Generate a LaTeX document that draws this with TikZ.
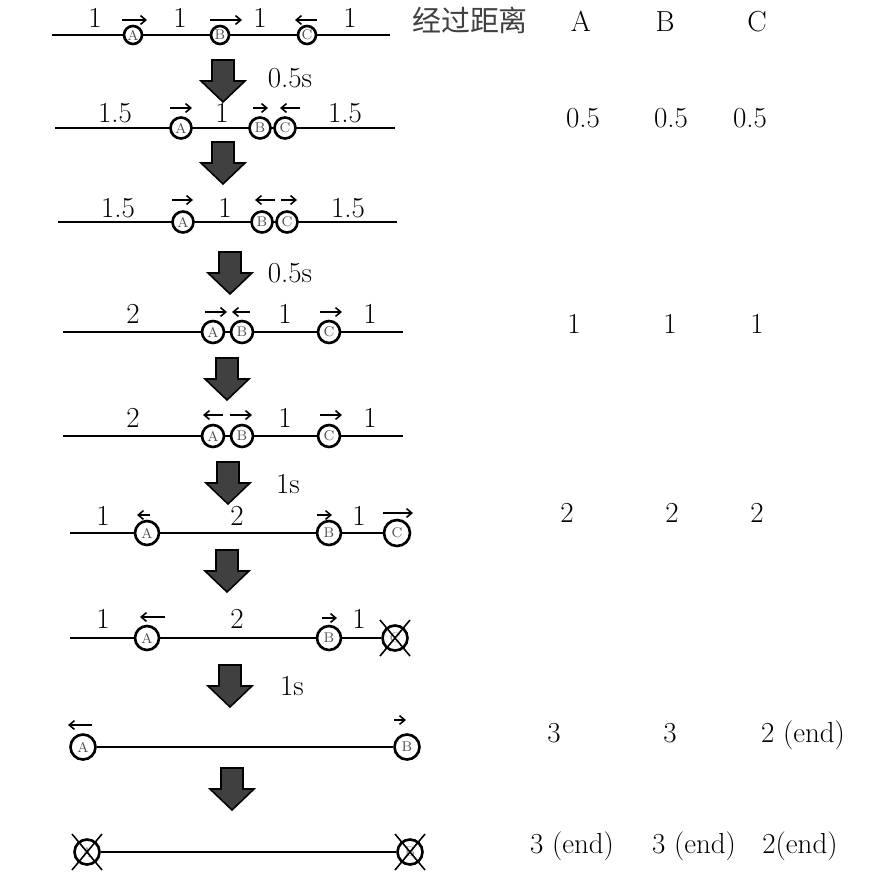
\documentclass[tikz,border=0pt]{standalone}
\usepackage{fontspec}
\newfontfamily\cjk{Noto Sans CJK SC}
\usetikzlibrary{arrows.meta}
\tikzset{down/.pic={\draw[fill=black!75,line width=.9pt] (-11,0)--(11,0)--(11,21)--(22,21)--(0,42)--(-22,21)--(-11,21)--cycle;}}

\begin{document}
\begin{tikzpicture}[x=.02cm,y=-.02cm,font=\fontsize{16.5}{19}\selectfont,
  ball/.style={circle,draw,fill=white,line width=1.5pt,minimum size=.44cm,inner sep=0pt,font=\fontsize{8}{9}\selectfont,text=black!70},
  track/.style={line width=1.6pt},
  mv/.style={line width=.9pt,-{Straight Barb[length=3pt,width=5pt]}},
  txt/.style={anchor=base},
  gone/.style={line width=.9pt}]
\useasboundingbox (0,0) rectangle (874,875);
% header
\node[txt,text=black!75] (hd) at (470,32) {\cjk 经过距离};
\node[txt] (hA) at (581,32) {A};\node[txt] (hB) at (665,32) {B};\node[txt] (hC) at (757,32) {C};
% row 1
\draw[track] (52,35) coordinate (s1) -- (390,35) coordinate (e1);
\node[ball,minimum size=.36cm] (a1) at (133,35) {A};\node[ball,minimum size=.36cm] (b1) at (220,35) {B};\node[ball,minimum size=.36cm] (c1) at (307,35) {C};
\draw[mv] (122,20)--(147,20);\draw[mv] (210,20)--(242,20);\draw[mv] (317,20)--(295,20);
\node[txt] at (95,28) {1};\node[txt] at (180,28) {1};\node[txt] at (260,28) {1};\node[txt] at (350,28) {1};
\pic at (223,60) {down};\node[txt] (t1) at (290,88) {0.5s};
% row 2
\draw[track] (55,128) coordinate (s2) -- (395,128) coordinate (e2);
\node[ball,minimum size=.42cm] (a2) at (181,128) {A};\node[ball,minimum size=.42cm] (b2) at (260,128) {B};\node[ball,minimum size=.42cm] (c2) at (285,128) {C};
\draw[mv] (170,108)--(192,108);\draw[mv] (253,108)--(268,108);\draw[mv] (300,108)--(280,108);
\node[txt] at (115,122) {1.5};\node[txt] at (222,122) {1};\node[txt] at (345,122) {1.5};
\node[txt] at (583,128) {0.5};\node[txt] at (671,128) {0.5};\node[txt] at (750,128) {0.5};
\pic at (223,142) {down};
% row 3
\draw[track] (58,222) coordinate (s3) -- (397,222) coordinate (e3);
\node[ball,minimum size=.42cm] (a3) at (183,222) {A};\node[ball,minimum size=.42cm] (b3) at (262,222) {B};\node[ball,minimum size=.42cm] (c3) at (287,222) {C};
\draw[mv] (172,200)--(193,200);\draw[mv] (275,200)--(255,200);\draw[mv] (281,200)--(297,200);
\node[txt] at (118,217) {1.5};\node[txt] at (225,217) {1};\node[txt] at (348,217) {1.5};
\pic at (230,252) {down};\node[txt] (t2) at (290,282) {0.5s};
% row 4
\draw[track] (63,332) coordinate (s4) -- (403,332) coordinate (e4);
\node[ball] (a4) at (213,332) {A};\node[ball] (b4) at (242,332) {B};\node[ball] (c4) at (329,332) {C};
\draw[mv] (205,312)--(227,312);\draw[mv] (250,312)--(232,312);\draw[mv] (320,312)--(342,312);
\node[txt] at (133,323) {2};\node[txt] at (285,323) {1};\node[txt] at (370,323) {1};
\node[txt] at (574,333) {1};\node[txt] at (670,333) {1};\node[txt] at (757,333) {1};
\pic at (227,358) {down};
% row 5
\draw[track] (63,436) coordinate (s5) -- (403,436) coordinate (e5);
\node[ball] (a5) at (213,436) {A};\node[ball] (b5) at (242,436) {B};\node[ball] (c5) at (329,436) {C};
\draw[mv] (223,415)--(203,415);\draw[mv] (230,415)--(252,415);\draw[mv] (320,415)--(342,415);
\node[txt] at (133,427) {2};\node[txt] at (285,427) {1};\node[txt] at (370,427) {1};
\pic at (228,462) {down};\node[txt] (t3) at (288,493) {1s};
% row 6
\node[ball,minimum size=.52cm] (c6) at (397,533) {C};
\draw[track] (70,533) coordinate (s6) -- (c6);
\node[ball,minimum size=.48cm] (a6) at (147,533) {A};\node[ball,minimum size=.48cm] (b6) at (329,533) {B};
\draw[mv] (150,515)--(137,515);\draw[mv] (317,515)--(332,515);\draw[mv] (383,513)--(413,513);
\node[txt] at (103,525) {1};\node[txt] at (237,525) {2};\node[txt] at (359,525) {1};
\node[txt] at (567,522) {2};\node[txt] at (672,522) {2};\node[txt] at (757,522) {2};
\pic at (227,550) {down};
% row 7
\node[ball,minimum size=.5cm,text=black!45] (c7) at (395,638) {C};
\draw[track] (70,638) coordinate (s7) -- (c7);
\node[ball,minimum size=.48cm] (a7) at (147,638) {A};\node[ball,minimum size=.48cm] (b7) at (329,638) {B};
\draw[gone] ([shift={(-15,-18)}]c7.center)--([shift={(15,18)}]c7.center);\draw[gone] ([shift={(15,-18)}]c7.center)--([shift={(-15,18)}]c7.center);
\draw[mv] (165,617)--(140,617);\draw[mv] (322,618)--(337,618);
\node[txt] at (103,628) {1};\node[txt] at (237,628) {2};\node[txt] at (359,628) {1};
\pic at (230,665) {down};\node[txt] (t4) at (292,695) {1s};
% row 8
\node[ball,minimum size=.5cm] (a8) at (83,747) {A};\node[ball,minimum size=.5cm] (b8) at (407,747) {B};
\draw[track] (a8) -- (b8);
\draw[mv] (92,725)--(68,725);\draw[mv] (394,720)--(406,720);
\node[txt] at (554,742) {3};\node[txt] at (670,742) {3};\node[txt] at (803,742) {2 (end)};
\pic at (232,768) {down};
% row 9
\node[ball,minimum size=.5cm,text=black!45] (a9) at (87,852) {A};\node[ball,minimum size=.5cm,text=black!45] (b9) at (410,852) {B};
\draw[track] (a9) -- (b9);
\draw[gone] ([shift={(-15,-18)}]a9.center)--([shift={(15,18)}]a9.center);\draw[gone] ([shift={(15,-18)}]a9.center)--([shift={(-15,18)}]a9.center);
\draw[gone] ([shift={(-15,-18)}]b9.center)--([shift={(15,18)}]b9.center);\draw[gone] ([shift={(15,-18)}]b9.center)--([shift={(-15,18)}]b9.center);
\node[txt] at (572,853) {3 (end)};\node[txt] at (694,853) {3 (end)};\node[txt] at (800,853) {2(end)};
\end{tikzpicture}
\end{document}
